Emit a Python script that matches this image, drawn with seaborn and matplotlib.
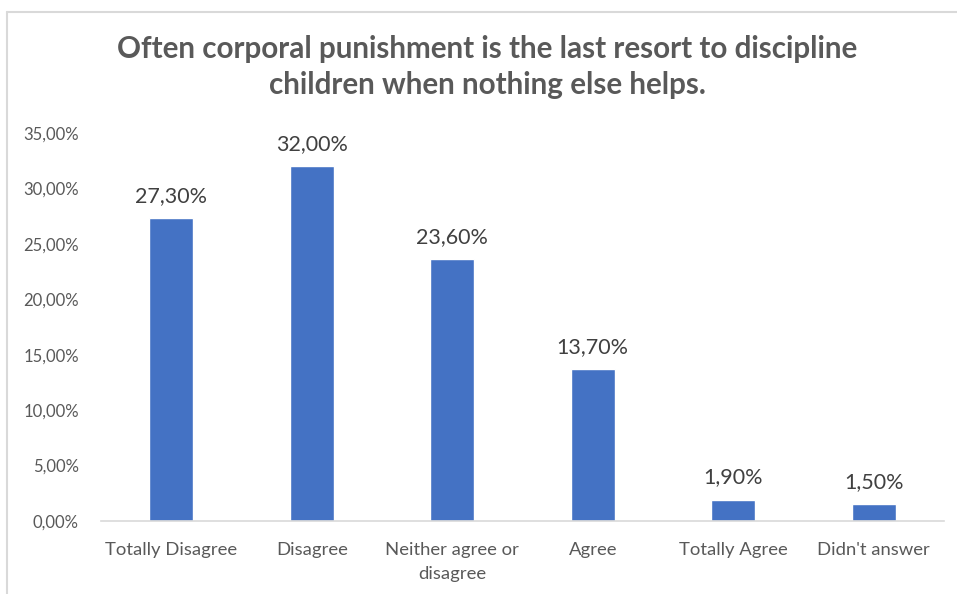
import matplotlib
matplotlib.use("Agg")
import matplotlib.pyplot as plt
from matplotlib.lines import Line2D
import seaborn as sns
import pandas as pd

categories = ["Totally Disagree", "Disagree", "Neither agree or\ndisagree",
              "Agree", "Totally Agree", "Didn't answer"]
shares = [27.30, 32.00, 23.60, 13.70, 1.90, 1.50]
y_ticks = [0, 5, 10, 15, 20, 25, 30, 35]

df = pd.DataFrame({"category": categories, "share": shares})

sns.set_theme(style="white")
plt.rcParams["font.family"] = ["Lato", "DejaVu Sans"]

text_gray = "#595959"
bar_blue = "#4472C4"

fig = plt.figure(figsize=(9.57, 5.94), dpi=100)
ax = fig.add_axes([101 / 957, 1 - 521 / 594, 843 / 957, 388 / 594])

sns.barplot(data=df, x="category", y="share", color=bar_blue, width=0.31,
            saturation=1, ax=ax)

ax.set_ylim(0, 35)
ax.set_xlim(-0.5, len(categories) - 0.5)
ax.set_yticks(y_ticks)
ax.set_yticklabels([f"{v:.2f}%".replace(".", ",") for v in y_ticks])
ax.set_xlabel("")
ax.set_ylabel("")
ax.tick_params(axis="both", length=0, colors=text_gray)
ax.tick_params(axis="y", pad=16, labelsize=12)
ax.tick_params(axis="x", pad=15, labelsize=13.3)
for lbl in ax.get_xticklabels():
    lbl.set_linespacing(1.65)

for side in ["top", "right", "left"]:
    ax.spines[side].set_visible(False)
ax.spines["bottom"].set_color("#d9d9d9")
ax.spines["bottom"].set_linewidth(1.2)

for i, v in enumerate(shares):
    ax.annotate(f"{v:.2f}%".replace(".", ","), (i, v), xytext=(0, 9),
                textcoords="offset points", ha="center", va="bottom",
                fontsize=15.5, color="#404040")

fig.text(487 / 957, 1 - 67 / 594,
         "Often corporal punishment is the last resort to discipline\nchildren when nothing else helps.",
         ha="center", va="center", fontsize=21.3, fontweight="bold",
         color=text_gray, linespacing=1.35)

# chart area frame
fig.add_artist(Line2D([7.5 / 957, 1], [1 - 11.5 / 594, 1 - 11.5 / 594],
                      transform=fig.transFigure, color="#d9d9d9", lw=1.5))
fig.add_artist(Line2D([7.5 / 957, 7.5 / 957], [0, 1 - 11.5 / 594],
                      transform=fig.transFigure, color="#d9d9d9", lw=1.5))

fig.savefig("out.png", dpi=100, facecolor="white")
